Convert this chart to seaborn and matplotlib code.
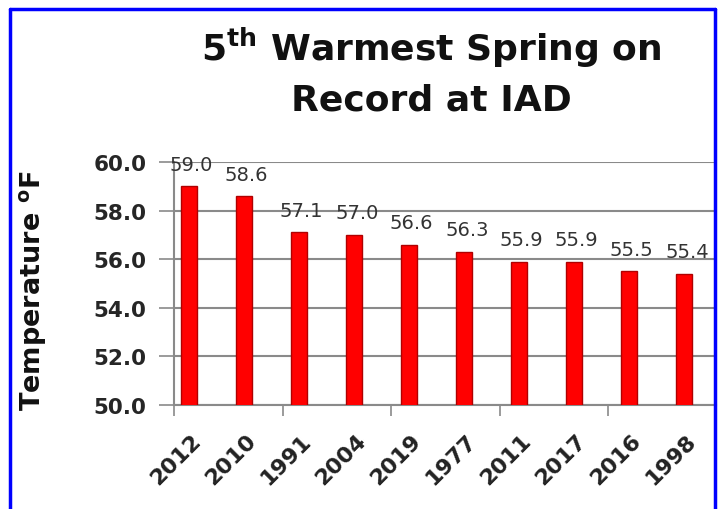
import matplotlib
matplotlib.use("Agg")
import matplotlib.pyplot as plt
import matplotlib.transforms as mtransforms
from matplotlib.lines import Line2D
import seaborn as sns
import pandas as pd

years = ["2012", "2010", "1991", "2004", "2019", "1977", "2011", "2017", "2016", "1998"]
temps = [59.0, 58.6, 57.1, 57.0, 56.6, 56.3, 55.9, 55.9, 55.5, 55.4]
y_ticks = [50.0, 52.0, 54.0, 56.0, 58.0, 60.0]
title_text = "5$^{\\mathregular{th}}$ Warmest Spring on\nRecord at IAD"
ylabel_text = "Temperature $^{\\mathregular{o}}$F"

sns.set_theme(style="white")
plt.rcParams['font.family'] = ['DejaVu Sans']

df = pd.DataFrame({"year": years, "temp": temps})

fig = plt.figure(figsize=(7.18, 5.10), dpi=100)
ax = fig.add_axes([174/718, 1-406/510, (716-174)/718, (406-163)/510])

sns.barplot(data=df, x="year", y="temp", order=years, color="#ff0000",
            width=0.28, ax=ax, saturation=1, edgecolor="#b00000", linewidth=1.0,
            zorder=3)

ax.set_ylim(50, 60)
ax.set_xlim(-0.27, 9.58)
ax.set_yticks(y_ticks)
ax.set_yticklabels([f"{v:.1f}" for v in y_ticks], fontsize=15.5, fontweight="bold", color="#262626")
ax.yaxis.grid(True, color="#8a8a8a", linewidth=1.5, zorder=0)
ax.xaxis.grid(False)
ax.tick_params(axis="y", which="major", length=11, width=1.2, color="#8a8a8a", direction="out", pad=9, left=True)

# x tick labels under bars
ax.set_xticks(range(len(years)))
ax.set_xticklabels(years, rotation=45, ha="right", fontsize=16, fontweight="bold", color="#222222")
ax.tick_params(axis="x", which="major", length=0, pad=18)
offset = mtransforms.ScaledTranslation(16/100, 0, fig.dpi_scale_trans)
for lbl in ax.get_xticklabels():
    lbl.set_transform(lbl.get_transform() + offset)

# boundary tick marks every two categories
ax.set_xticks([-0.27 + 2*k*0.986 for k in range(5)], minor=True)
ax.tick_params(axis="x", which="minor", length=8, width=1.2, color="#8a8a8a", direction="out", bottom=True)

for side in ["top", "right"]:
    ax.spines[side].set_visible(False)
for side in ["left", "bottom"]:
    ax.spines[side].set_color("#8a8a8a")
    ax.spines[side].set_linewidth(1.5)

ax.set_xlabel("")
ax.set_ylabel("")

for i, v in enumerate(temps):
    ax.annotate(f"{v:.1f}", (i, v), xytext=(2, 9), textcoords="offset points",
                ha="center", va="bottom", fontsize=14, color="#333333", zorder=4)

fig.text(431/718, 1-72/510, title_text, ha="center", va="center", fontsize=26,
         fontweight="bold", color="#111111", linespacing=1.5)
fig.text(33/718, 1-291/510, ylabel_text, ha="center", va="center", rotation=90,
         fontsize=19.5, fontweight="bold", color="#111111")

# blue frame
for xs, ys in [([10/718, 10/718], [0, 1-10/510]),
               ([10/718, 715/718], [1-10/510, 1-10/510]),
               ([715/718, 715/718], [0, 1-10/510])]:
    fig.add_artist(Line2D(xs, ys, transform=fig.transFigure, color="#0000ff", linewidth=2.5))

fig.savefig("out.png", dpi=100, facecolor="white")
